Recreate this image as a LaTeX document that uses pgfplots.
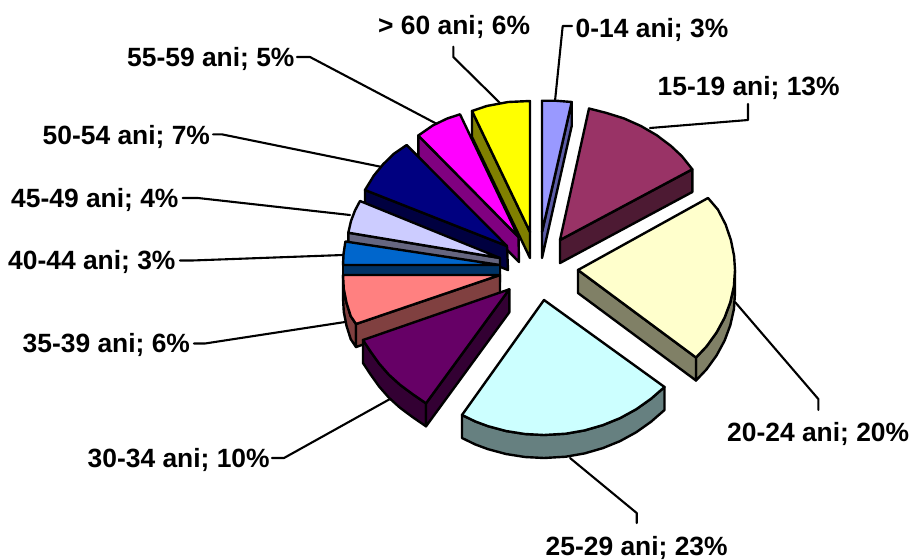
\documentclass[border=0pt]{standalone}
\usepackage{pgfplots}
\pgfplotsset{compat=1.18}
\usepackage{fontspec}
\setmainfont{Liberation Sans}
\definecolor{fA}{HTML}{9999FF}\definecolor{sA}{HTML}{5C5CA6}
\definecolor{fB}{HTML}{993366}\definecolor{sB}{HTML}{4D1A33}
\definecolor{fC}{HTML}{FFFFCC}\definecolor{sC}{HTML}{808066}
\definecolor{fD}{HTML}{CCFFFF}\definecolor{sD}{HTML}{668080}
\definecolor{fE}{HTML}{660066}\definecolor{sE}{HTML}{330033}
\definecolor{fF}{HTML}{FF8080}\definecolor{sF}{HTML}{804040}
\definecolor{fG}{HTML}{0066CC}\definecolor{sG}{HTML}{003366}
\definecolor{fH}{HTML}{CCCCFF}\definecolor{sH}{HTML}{666680}
\definecolor{fI}{HTML}{000080}\definecolor{sI}{HTML}{000040}
\definecolor{fJ}{HTML}{FF00FF}\definecolor{sJ}{HTML}{800080}
\definecolor{fK}{HTML}{FFFF00}\definecolor{sK}{HTML}{808000}
\tikzset{
  lead/.style={draw=black,line width=2.1pt,sharp plot},
  face/.style={draw=black,line width=2.4pt,sharp plot,fill=#1},
  lab/.style={font=\fontsize{26.4}{28}\selectfont\bfseries,inner sep=0pt,anchor=west},
}
\begin{document}
\begin{tikzpicture}
\begin{axis}[
  at={(0,0)},anchor=south west,
  width=913pt,height=557pt,scale only axis,
  xmin=0,xmax=913,ymin=0,ymax=557,y dir=reverse,
  hide axis,clip=false,no markers,
  every axis plot/.append style={line join=round,line cap=round},
]
% leaders
\addplot[lead] coordinates {(555,101) (562.7,26) (572,26)};
\addplot[lead] coordinates {(650,128) (748,120) (748,104)};
\addplot[lead] coordinates {(735,302) (818.3,399) (818.3,410)};
\addplot[lead] coordinates {(570,458) (636.7,513) (636.7,523)};
\addplot[lead] coordinates {(272,458) (284,458) (390,399)};
\addplot[lead] coordinates {(194,343.5) (205,343.5) (345,322)};
\addplot[lead] coordinates {(180,260.5) (192,260.5) (343,255)};
\addplot[lead] coordinates {(182.7,198) (198,198) (350,215)};
\addplot[lead] coordinates {(213,134.3) (221.7,134.3) (382,167)};
\addplot[lead] coordinates {(297,57) (310,57) (437,124)};
\addplot[lead] coordinates {(453.3,46.7) (453.3,57) (500,103)};
% 0-14
\addplot[face=sA] coordinates {(571.7,102) (542,232) (542,258) (571.7,126)} --cycle;
\addplot[face=fA] coordinates {(542,232) (542,100.7) (557,100.8) (571.7,102)} --cycle;
% 15-19
\addplot[face=sB] coordinates {(560,240) (692.3,169.3) (692.3,192) (560,263)} --cycle;
\addplot[face=fB] coordinates {(560,240) (589,108.5) (605.9,112.8) (623.9,118.4) (640.9,126) (656.7,135.2) (671,146) (682,156.3) (692.3,169.3)} --cycle;
% 20-24
\addplot[face=sC] coordinates {(735,270) (733.9,286.2) (730.3,302.2) (724.6,317.6) (716.6,332.4) (706.6,346.3) (696,357.5) (696,380.5) (706.6,369.3) (716.6,355.4) (724.6,340.6) (730.3,325.2) (733.9,309.2) (735,293)} --cycle;
\addplot[face=sC] coordinates {(578,270) (696,357.5) (696,380.5) (578,293)} --cycle;
\addplot[face=fC] coordinates {(578,270) (708,198) (717.9,209.6) (725.6,224.5) (730.9,240.1) (734.1,256) (735,270) (733.9,286.2) (730.3,302.2) (724.6,317.6) (716.6,332.4) (706.6,346.3) (696,357.5)} --cycle;
% 25-29
\addplot[face=sD] coordinates {(664.5,387) (651.1,398.7) (636.3,409.2) (620.1,418.1) (602.9,425.1) (584.6,430.4) (565.8,433.7) (544,435) (524.9,434) (506,431) (487.8,426.1) (475.2,421.4) (462,415) (462,438) (475.2,444.4) (487.8,449.1) (506,454) (524.9,457) (544,458) (565.8,456.7) (584.6,453.4) (602.9,448.1) (620.1,441.1) (636.3,432.2) (651.1,421.7) (664.5,410)} --cycle;
\addplot[face=fD] coordinates {(544,300) (664.5,387) (651.1,398.7) (636.3,409.2) (620.1,418.1) (602.9,425.1) (584.6,430.4) (565.8,433.7) (544,435) (524.9,434) (506,431) (487.8,426.1) (475.2,421.4) (462,415)} --cycle;
% > 60
\addplot[face=sK] coordinates {(472,111) (530,232) (530,258) (472,137)} --cycle;
\addplot[face=fK] coordinates {(530,232) (472,111) (486.7,106) (508.2,102) (530,101)} --cycle;
% 55-59
\addplot[face=sJ] coordinates {(418.3,135.5) (518.5,237) (519,262) (418.3,160)} --cycle;
\addplot[face=fJ] coordinates {(518.5,237) (460,114.3) (447.2,118.5) (432.9,125.4) (418.3,135.5)} --cycle;
% 50-54
\addplot[face=sI] coordinates {(365,190) (507,246) (508,270) (365,214)} --cycle;
\addplot[face=fI] coordinates {(507,246) (406.7,145) (394.1,153.6) (383.3,164.1) (373.9,175.5) (365,190)} --cycle;
% 45-49
\addplot[face=sH] coordinates {(348.3,232.7) (500,258) (500,282) (348.3,256.7)} --cycle;
\addplot[face=fH] coordinates {(500,258) (360,201) (355,210.5) (351,221) (348.3,232.7)} --cycle;
% 40-44
\addplot[face=sG] coordinates {(343,265) (500,265) (500,289) (343,289)} --cycle;
\addplot[face=fG] coordinates {(500,265) (345.4,241.5) (343.6,253.4) (343,265)} --cycle;
% 35-39
\addplot[face=sF] coordinates {(343,275) (343.8,289) (346.5,302.7) (350.7,316.1) (356,324) (356,347) (350.7,339.1) (346.5,325.7) (343.8,312) (343,298)} --cycle;
\addplot[face=sF] coordinates {(356,324) (500,275) (500,298) (356,347)} --cycle;
\addplot[face=fF] coordinates {(500,275) (343,275) (343.8,289) (346.5,302.7) (350.7,316.1) (356,324)} --cycle;
% 30-34
\addplot[face=sE] coordinates {(426,403.3) (412.6,394.1) (400.2,384.9) (389,374.8) (379.2,363.6) (370.7,351.7) (363,340) (363,363) (370.7,374.7) (379.2,386.6) (389,397.8) (400.2,407.9) (412.6,417.1) (426,426.3)} --cycle;
\addplot[face=sE] coordinates {(509.3,289.3) (426,403.3) (426,426.3) (509.3,312.3)} --cycle;
\addplot[face=fE] coordinates {(509.3,289.3) (426,403.3) (412.6,394.1) (400.2,384.9) (389,374.8) (379.2,363.6) (370.7,351.7) (363,340)} --cycle;
% labels
\node[lab] at (axis cs:575.5,30) {0-14 ani; 3\%};
\node[lab] at (axis cs:657.5,88) {15-19 ani; 13\%};
\node[lab] at (axis cs:727,433.5) {20-24 ani; 20\%};
\node[lab] at (axis cs:545.5,547.5) {25-29 ani; 23\%};
\node[lab] at (axis cs:87.5,460) {30-34 ani; 10\%};
\node[lab] at (axis cs:22.5,345) {35-39 ani; 6\%};
\node[lab] at (axis cs:8,262) {40-44 ani; 3\%};
\node[lab] at (axis cs:11,200) {45-49 ani; 4\%};
\node[lab] at (axis cs:42.5,137) {50-54 ani; 7\%};
\node[lab] at (axis cs:127,59) {55-59 ani; 5\%};
\node[lab] at (axis cs:378,27) {> 60 ani; 6\%};
\end{axis}
\useasboundingbox (0,0) rectangle (913pt,557pt);
\end{tikzpicture}
\end{document}
